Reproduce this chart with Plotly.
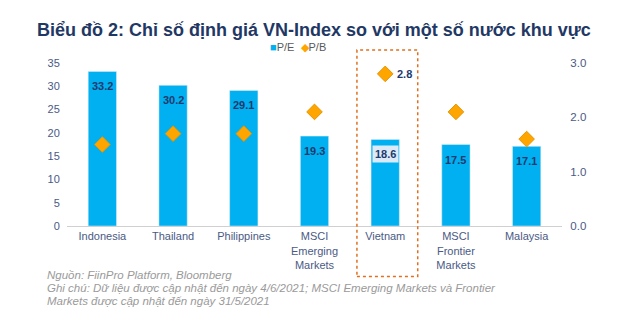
import plotly.graph_objects as go

categories = ["Indonesia", "Thailand", "Philippines", "MSCI<br>Emerging<br>Markets",
              "Vietnam", "MSCI<br>Frontier<br>Markets", "Malaysia"]
pe = [33.2, 30.2, 29.1, 19.3, 18.6, 17.5, 17.1]
pb = [1.5, 1.7, 1.7, 2.1, 2.8, 2.1, 1.6]
left_ticks = [0, 5, 10, 15, 20, 25, 30, 35]
right_ticks = [0.0, 1.0, 2.0, 3.0]
footer_lines = [
    "Nguồn: FiinPro Platform, Bloomberg",
    "Ghi chú: Dữ liệu được cập nhật đến ngày 4/6/2021; MSCI Emerging Markets và Frontier",
    "Markets được cập nhật đến ngày 31/5/2021",
]

navy = "#1F3A6E"
tickc = "#4A5A85"
fam = "Liberation Sans"
x_idx = list(range(len(categories)))
HL = 4  # highlighted category (Vietnam)

fig = go.Figure()
fig.add_trace(go.Bar(x=x_idx, y=pe, name="P/E", marker_color="#00B0F0", showlegend=False))
fig.add_trace(go.Scatter(
    x=x_idx, y=pb, name="P/B", yaxis="y2", mode="markers", showlegend=False,
    marker=dict(symbol="diamond", size=12, color="#FFA500",
                line=dict(color="#E89400", width=1)),
))

for i, v in enumerate(pe):
    fig.add_annotation(x=i, y=v, yshift=-15, text=f"<b>{v:.1f}</b>", showarrow=False,
                       font=dict(color=navy, size=11, family=fam),
                       bgcolor="#DCEAF7" if i == HL else None, borderpad=2)
fig.add_annotation(x=HL, y=pb[HL], yref="y2", text=f"<b>{pb[HL]:.1f}</b>", showarrow=False,
                   xshift=19, font=dict(color=navy, size=11, family=fam))

fig.add_shape(type="rect", xref="x", yref="paper", x0=3.60, x1=4.46, y0=-0.31, y1=1.08,
              line=dict(color="#E07020", width=1.5, dash="dot"))

# legend
fig.add_annotation(xref="paper", yref="paper", x=0.467, y=1.10, xanchor="center", yanchor="middle",
                   showarrow=False,
                   text=("<span style='color:#00B0F0'>■</span>P/E  "
                         "<span style='color:#FFA500'>◆</span>P/B"),
                   font=dict(color="#595959", size=11, family=fam))

for k, line in enumerate(footer_lines):
    fig.add_annotation(xref="paper", yref="paper", x=-0.043, y=-0.298 - 0.082 * k,
                       xanchor="left", yanchor="middle", showarrow=False,
                       text=f"<i>{line}</i>", borderpad=0,
                       font=dict(color="#9A9A9A", size=11.5, family=fam))

fig.update_layout(
    width=643, height=328,
    margin=dict(l=67, r=81, t=63, b=102),
    paper_bgcolor="white", plot_bgcolor="white",
    bargap=0.6, showlegend=False,
    title=dict(text="<b>Biểu đồ 2: Chỉ số định giá VN-Index so với một số nước khu vực</b>",
               x=0.0575, xanchor="left", y=0.908, yanchor="middle",
               font=dict(color="#1F3864", size=18, family=fam)),
    xaxis=dict(tickmode="array", tickvals=x_idx, ticktext=categories,
               range=[-0.5, 6.5], showline=True, linecolor="#D0D0D0", linewidth=1,
               ticks="", tickfont=dict(color=tickc, size=11, family=fam)),
    yaxis=dict(range=[0, 35], tickvals=left_ticks, showgrid=False, zeroline=False,
               ticks="outside", ticklen=4, tickcolor="rgba(0,0,0,0)",
               tickfont=dict(color=tickc, size=11, family=fam)),
    yaxis2=dict(range=[0, 3.0], tickvals=right_ticks, tickformat=".1f", overlaying="y",
                side="right", showgrid=False, zeroline=False,
                ticks="outside", ticklen=5, tickcolor="rgba(0,0,0,0)",
                tickfont=dict(color=tickc, size=11.5, family=fam)),
    font=dict(family=fam),
)

fig.write_html("out.html")
